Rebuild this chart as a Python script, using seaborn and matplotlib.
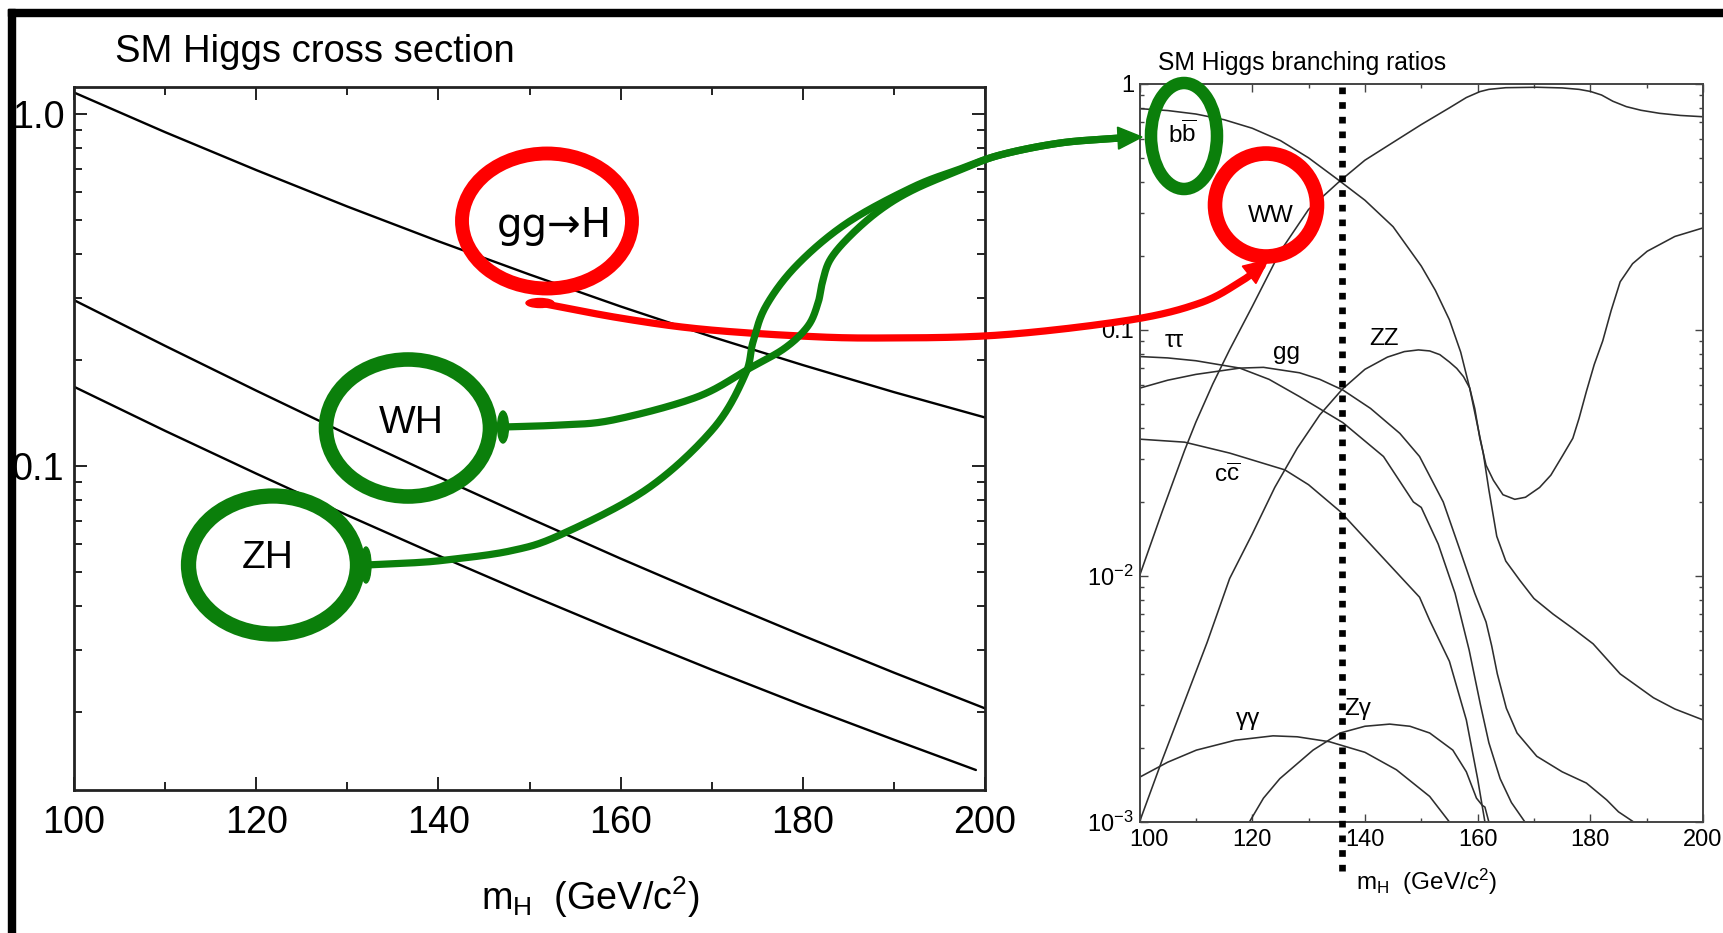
import numpy as np
import matplotlib
matplotlib.use("Agg")
import matplotlib.pyplot as plt
import seaborn as sns
from matplotlib.patches import Ellipse, Polygon, Rectangle
from matplotlib.lines import Line2D
from matplotlib.ticker import FixedLocator, FixedFormatter, LogLocator, NullFormatter

# ---------------- data: SM Higgs cross sections (pb) ----------------
xs_mass = [100, 110, 120, 130, 140, 150, 160, 170, 180, 190, 200]
xs_ggH = [1.151, 0.888, 0.693, 0.546, 0.435, 0.350, 0.284, 0.233, 0.1936, 0.1622, 0.1374]
xs_WH = [0.296, 0.2195, 0.1638, 0.1231, 0.0932, 0.0711, 0.0546, 0.0423, 0.0330, 0.0259, 0.0205]
xs_mass_ZH = [100, 110, 120, 130, 140, 150, 160, 170, 180, 190, 199]
xs_ZH = [0.168, 0.1259, 0.0952, 0.0725, 0.0557, 0.0431, 0.0336, 0.0264, 0.0209, 0.0167, 0.0137]

# ---------------- data: SM Higgs branching ratios ----------------
bb_m = [100, 105, 110, 115, 120, 125, 130, 135, 140, 145, 150, 152.5, 155, 157, 158.6, 160, 161,
        162, 163.4, 165, 167.5, 170, 173.4, 177, 180.5, 185.3, 191.2, 195, 200]
bb_v = [0.794, 0.780, 0.755, 0.716, 0.661, 0.589, 0.501, 0.412, 0.337, 0.263, 0.182, 0.145, 0.110,
        0.0813, 0.058, 0.0407, 0.0316, 0.0224, 0.0145, 0.0115, 0.0096, 0.0081, 0.0070, 0.0061,
        0.0053, 0.0040, 0.0032, 0.00288, 0.0026]

ww_m = [100, 102, 104, 106, 108, 110, 113, 116, 120, 125, 130, 135.6, 140, 145, 150, 155, 158,
        160.4, 162, 165, 170.5, 175, 178, 180, 182, 184, 186.4, 189, 192.3, 196, 200]
ww_v = [0.0100, 0.0135, 0.0182, 0.0243, 0.0324, 0.0422, 0.0603, 0.0832, 0.1245, 0.209, 0.309,
        0.404, 0.49, 0.579, 0.684, 0.80, 0.881, 0.931, 0.951, 0.966, 0.970, 0.964, 0.951, 0.933,
        0.902, 0.851, 0.809, 0.782, 0.760, 0.745, 0.736]

zz_m = [100, 104, 108, 112, 116, 120, 124, 128, 132, 136, 140, 144, 147, 149.5, 151.5, 153.3, 155,
        156.3, 157.5, 158.6, 159.5, 160.4, 161.5, 162.8, 164.5, 166.6, 168.5, 171, 173, 175.1,
        176.9, 178, 179.3, 180.7, 182.2, 183.7, 185.3, 187.5, 190.1, 195, 200]
zz_v = [0.001, 0.00178, 0.00309, 0.00537, 0.00977, 0.0148, 0.0229, 0.0331, 0.0452, 0.0575, 0.0692,
        0.0776, 0.0817, 0.083, 0.0822, 0.0794, 0.0741, 0.0698, 0.0646, 0.0581, 0.0479, 0.0363,
        0.0282, 0.0245, 0.0214, 0.0205, 0.0209, 0.0229, 0.0257, 0.0309, 0.0363, 0.0437, 0.0562,
        0.0724, 0.0902, 0.120, 0.157, 0.186, 0.209, 0.240, 0.260]

tautau_m = [100, 105, 110, 117.8, 123, 128.4, 136.1, 143.3, 148.6, 150, 153, 156, 158.5, 160.5,
            162, 164, 166, 168.4]
tautau_v = [0.078, 0.077, 0.075, 0.070, 0.063, 0.0536, 0.042, 0.0306, 0.020, 0.019, 0.0135, 0.0085,
            0.005, 0.003, 0.0021, 0.0015, 0.0012, 0.001]

gluglu_m = [100, 105, 110, 117.8, 122, 128.4, 132, 136.1, 141, 146.2, 149.7, 153.9, 157, 159.5,
            161.5, 162.5, 163.5, 165.1, 167, 170.5, 175, 179.3, 182.9, 185, 187.7]
gluglu_v = [0.058, 0.0625, 0.066, 0.070, 0.0705, 0.067, 0.063, 0.057, 0.048, 0.038, 0.0306, 0.020,
            0.0125, 0.0085, 0.0065, 0.0052, 0.0040, 0.0029, 0.0023, 0.00185, 0.0016, 0.00144,
            0.00123, 0.0011, 0.001]

cc_m = [100, 108, 116, 125.8, 130, 135.6, 143, 149.7, 151.5, 155, 158, 160, 161.3]
cc_v = [0.036, 0.035, 0.0316, 0.027, 0.0235, 0.0183, 0.012, 0.0082, 0.0066, 0.0045, 0.0026, 0.0015, 0.001]

zgam_m = [119.5, 122, 124.9, 130.8, 135.6, 140, 144.4, 148, 151.5, 155.6, 158, 159.8, 160.8, 161.3, 162]
zgam_v = [0.001, 0.00125, 0.0015, 0.00196, 0.0023, 0.00245, 0.0025, 0.00245, 0.0023, 0.00196,
          0.0016, 0.00125, 0.00117, 0.00115, 0.001]

gamgam_m = [100, 105, 110.1, 117, 123.7, 128, 133.7, 140, 145.6, 151.5, 155]
gamgam_v = [0.00152, 0.00175, 0.00196, 0.00215, 0.00224, 0.00222, 0.00212, 0.00192, 0.00163, 0.00127, 0.001]

mass_marker = 136  # dotted vertical line

cross_labels = ["gg→H", "WH", "ZH"]
br_labels = [r"b$\overline{\mathrm{b}}$", "WW", "ττ", "gg", "ZZ", r"c$\overline{\mathrm{c}}$", "γγ", "Zγ"]
x_ticks = [100, 120, 140, 160, 180, 200]
x_minor = [110, 130, 150, 170, 190]

# ---------------- style ----------------
sns.set_theme(style="ticks")
FONT = "Liberation Sans"
plt.rcParams["font.family"] = [FONT, "DejaVu Sans"]
plt.rcParams["mathtext.fontset"] = "custom"
plt.rcParams["mathtext.rm"] = FONT
plt.rcParams["mathtext.it"] = FONT
plt.rcParams["mathtext.bf"] = FONT
plt.rcParams["axes.unicode_minus"] = False
for key in ["text.color", "xtick.color", "ytick.color", "axes.labelcolor"]:
    plt.rcParams[key] = "black"

W, H = 1723, 933
fig = plt.figure(figsize=(W / 100, H / 100), dpi=100)
fig.patch.set_facecolor("white")


def fx(x):
    return x / W


def fy(y):
    return 1 - y / H


# ---------------- left panel ----------------
ax1 = fig.add_axes([fx(74), fy(790), (985 - 74) / W, (790 - 87) / H])
for m, v in [(xs_mass, xs_ggH), (xs_mass, xs_WH), (xs_mass_ZH, xs_ZH)]:
    sns.lineplot(x=m, y=v, ax=ax1, color="black", linewidth=1.7, estimator=None, sort=False, legend=False)
ax1.set_yscale("log")
ax1.set_xlim(100, 200)
ax1.set_ylim(0.01202, 1.193)
ax1.xaxis.set_major_locator(FixedLocator(x_ticks))
ax1.xaxis.set_minor_locator(FixedLocator(x_minor))
ax1.yaxis.set_major_locator(FixedLocator([0.1, 1.0]))
ax1.yaxis.set_major_formatter(FixedFormatter(["0.1", "1.0"]))
ax1.yaxis.set_minor_locator(LogLocator(base=10, subs=np.arange(2, 10)))
ax1.yaxis.set_minor_formatter(NullFormatter())
ax1.tick_params(which="both", direction="in", top=True, right=True, width=1.4, color="#222222")
ax1.tick_params(which="major", length=9.5, labelsize=27.2, labelcolor="black")
ax1.tick_params(which="minor", length=5.5)
ax1.tick_params(axis="x", which="major", pad=11)
ax1.tick_params(axis="y", which="major", pad=7)
for s in ax1.spines.values():
    s.set_linewidth(2.0)
    s.set_color("#222222")
ax1.set_xlabel("")
ax1.set_ylabel("")

fig.text(fx(115), fy(62), "SM Higgs cross section", fontsize=27.5, ha="left", va="baseline")
fig.text(fx(590), fy(897), r"m$_\mathrm{H}$  (GeV/c$^\mathrm{2}$)", fontsize=27.2, ha="center", va="center")
fig.text(fx(554), fy(237), cross_labels[0], fontsize=29, ha="center", va="baseline",
         family=["DejaVu Sans"])
for lab, (x, y) in zip(cross_labels[1:], [(411, 433), (268, 568)]):
    fig.text(fx(x), fy(y), lab, fontsize=28, ha="center", va="baseline")

# ---------------- right panel ----------------
ax2 = fig.add_axes([fx(1139.5), fy(822), (1703 - 1139.5) / W, (822 - 84) / H])
br_series = [(bb_m, bb_v), (ww_m, ww_v), (zz_m, zz_v), (tautau_m, tautau_v), (gluglu_m, gluglu_v),
             (cc_m, cc_v), (zgam_m, zgam_v), (gamgam_m, gamgam_v)]
for m, v in br_series:
    sns.lineplot(x=m, y=v, ax=ax2, color="#2e2e2e", linewidth=1.15, estimator=None, sort=False, legend=False)
ax2.set_yscale("log")
ax2.set_xlim(100, 200)
ax2.set_ylim(1e-3, 1)
ax2.plot([mass_marker, mass_marker], [0.97, 6.1e-4], color="black", linewidth=4.8,
         linestyle=(0, (1.0, 1.2)), dash_capstyle="butt", clip_on=False, zorder=5)
ax2.xaxis.set_major_locator(FixedLocator(x_ticks))
ax2.xaxis.set_major_formatter(FixedFormatter([""] + [str(t) for t in x_ticks[1:]]))
ax2.xaxis.set_minor_locator(FixedLocator(x_minor))
ax2.yaxis.set_major_locator(FixedLocator([1e-3, 1e-2, 0.1, 1]))
ax2.yaxis.set_major_formatter(FixedFormatter([r"10$^{\mathrm{-3}}$", r"10$^{\mathrm{-2}}$", "0.1", "1"]))
ax2.yaxis.set_minor_locator(LogLocator(base=10, subs=np.arange(2, 10)))
ax2.yaxis.set_minor_formatter(NullFormatter())
ax2.tick_params(which="both", direction="in", top=True, right=True, width=1.0, color="#444444")
ax2.tick_params(which="major", length=5.5, labelsize=17, labelcolor="black")
ax2.tick_params(which="minor", length=3.2)
ax2.tick_params(axis="x", which="major", pad=5)
ax2.tick_params(axis="y", which="major", pad=4)
for s in ax2.spines.values():
    s.set_linewidth(1.4)
    s.set_color("#444444")
ax2.set_xlabel("")
ax2.set_ylabel("")
# first x tick label sits a little to the right (clear of the 10^-3 label)
fig.text(fx(1149), fy(840), str(x_ticks[0]), fontsize=17, ha="center", va="center")

fig.text(fx(1158), fy(70), "SM Higgs branching ratios", fontsize=17.7, ha="left", va="baseline")
fig.text(fx(1427), fy(890), r"m$_\mathrm{H}$  (GeV/c$^\mathrm{2}$)", fontsize=17.5, ha="center", va="baseline")
br_label_pos = [(1182, 143), (1271, 222), (1174, 347), (1286, 359), (1384, 345), (1227, 482), (1248, 725), (1358, 715)]
for lab, (x, y) in zip(br_labels, br_label_pos):
    fig.text(fx(x), fy(y), lab, fontsize=17.5, ha="center", va="baseline")

# ---------------- hand-drawn annotations (figure pixel layout) ----------------
RED = "#ff0000"
GREEN = "#0b7f0b"


def catmull(pts, n=24):
    P = np.array(pts, float)
    P = np.vstack([P[0] * 2 - P[1], P, P[-1] * 2 - P[-2]])
    out = []
    for i in range(1, len(P) - 2):
        p0, p1, p2, p3 = P[i - 1], P[i], P[i + 1], P[i + 2]
        t = np.linspace(0, 1, n, endpoint=False)[:, None]
        seg = 0.5 * ((2 * p1) + (-p0 + p2) * t + (2 * p0 - 5 * p1 + 4 * p2 - p3) * t ** 2
                     + (-p0 + 3 * p1 - 3 * p2 + p3) * t ** 3)
        out.append(seg)
    out.append(P[-2][None, :])
    return np.vstack(out)


def add_curve(pts, color, lw):
    c = catmull(pts)
    fig.add_artist(Line2D(c[:, 0] / W, 1 - c[:, 1] / H, transform=fig.transFigure, color=color,
                          linewidth=lw, solid_capstyle="round", solid_joinstyle="round", zorder=10))
    return c


def add_head(tip, prev, color, length, width):
    tip = np.array(tip, float)
    d = tip - np.array(prev, float)
    d /= np.hypot(*d)
    p = np.array([-d[1], d[0]])
    base = tip - d * length
    verts = [tip, base + p * width / 2, base - p * width / 2]
    verts = [(v[0] / W, 1 - v[1] / H) for v in verts]
    fig.add_artist(Polygon(verts, closed=True, transform=fig.transFigure, color=color, zorder=11))


def add_ellipse(cx, cy, w, h, color, lw, fill=False):
    fig.add_artist(Ellipse((cx / W, 1 - cy / H), w / W, h / H, transform=fig.transFigure,
                           fill=fill, facecolor=color if fill else "none", edgecolor=color,
                           linewidth=lw, zorder=10))


# ellipses
add_ellipse(547, 221, 170, 135, RED, 10.0)        # gg->H
add_ellipse(1266, 205, 102, 103, RED, 10.5)       # WW
add_ellipse(1184, 136, 66, 106, GREEN, 9.0)       # bb
add_ellipse(408, 428, 164, 137, GREEN, 10.5)      # WH
add_ellipse(273, 565, 169, 138, GREEN, 11.0)      # ZH

# tails
add_ellipse(540, 303, 28, 9, RED, 1, fill=True)
add_ellipse(503, 427, 11, 32, GREEN, 1, fill=True)
add_ellipse(366, 565, 10, 36, GREEN, 1, fill=True)

# red arrow gg->H  ->  WW
red_pts = [(540, 303), (620, 318), (700, 329), (800, 336), (880, 338), (1000, 335), (1130, 320),
           (1200, 303), (1240, 282), (1262, 266)]
add_curve(red_pts, RED, 5.2)
add_head((1268, 260), (1240, 282), RED, 24, 22)

# green arrows WH / ZH -> bb
wh_pts = [(503, 427), (560, 425), (613, 420), (697, 397), (750, 368), (785, 348), (808, 326),
          (818, 303), (822, 284), (830, 260), (850, 236), (880, 210), (913, 190), (960, 170),
          (1000, 155), (1060, 143), (1120, 138)]
zh_pts = [(366, 565), (410, 563), (446, 560), (510, 551), (560, 535), (647, 489), (713, 429),
          (745, 375), (753, 342), (766, 306), (797, 265), (847, 223), (913, 187), (960, 169),
          (1000, 155), (1060, 143), (1120, 138)]
add_curve(wh_pts, GREEN, 5.2)
add_curve(zh_pts, GREEN, 5.2)
add_head((1142, 137), (1100, 139), GREEN, 24, 22)

# black frame lines (top and left)
fig.add_artist(Rectangle((fx(8), fy(16)), (W - 8) / W, 7 / H, transform=fig.transFigure,
                         color="black", zorder=20))
fig.add_artist(Rectangle((fx(8), 0), 7 / W, (H - 9) / H, transform=fig.transFigure,
                         color="black", zorder=20))

fig.savefig("out.png", dpi=100, facecolor="white")
